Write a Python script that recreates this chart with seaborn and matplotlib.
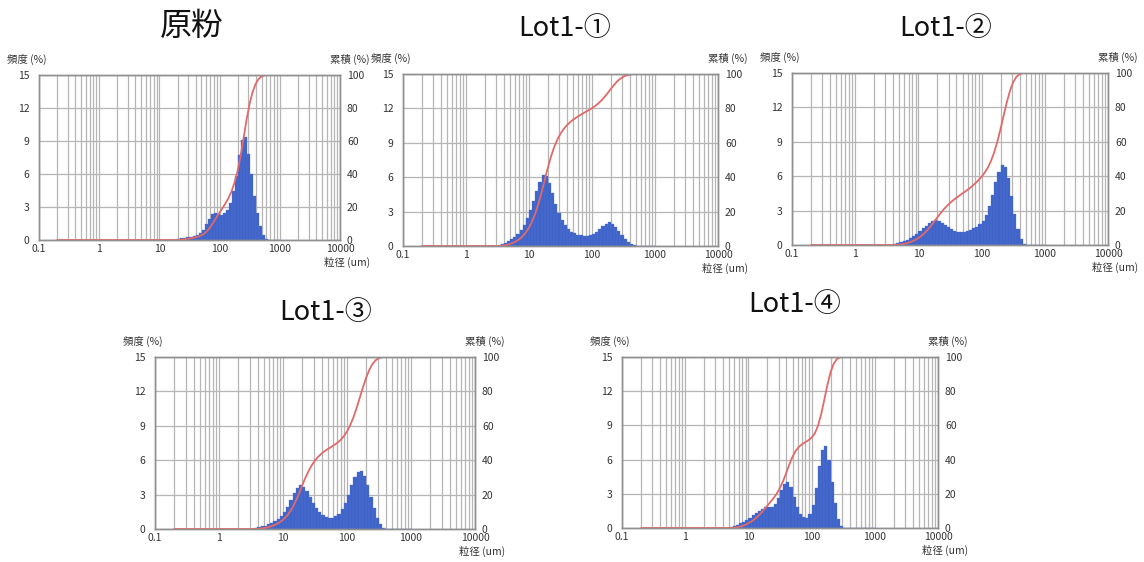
import numpy as np
import pandas as pd
import matplotlib
matplotlib.use("Agg")
import matplotlib.pyplot as plt
import matplotlib.ticker as mticker
import seaborn as sns

sns.set_style("white")
plt.rcParams['font.family'] = ['Noto Sans CJK JP', 'DejaVu Sans']

# ---------------- data ----------------
# instrument size channels (µm): 20 channels per decade from 10^0.5 to 10^3
channel_edges_um = np.logspace(0.5, 3.0, 51)

titles = ["原粉", "Lot1-①", "Lot1-②", "Lot1-③", "Lot1-④"]

x_tick_values = [0.1, 1, 10, 100, 1000, 10000]
x_tick_labels = ["0.1", "1", "10", "100", "1000", "10000"]
freq_ticks = [0, 3, 6, 9, 12, 15]
cum_ticks = [0, 20, 40, 60, 80, 100]

# frequency (%) per channel
freq_genpun = [0] * 16 + [
    0.1, 0.2, 0.22, 0.25, 0.28, 0.32, 0.45, 0.6, 0.9, 1.45,
    1.95, 2.35, 2.45, 2.4, 2.3, 2.45, 2.7, 3.4, 4.5, 5.8,
    7.7, 9.1, 9.4, 7.8, 6.0, 4.0, 2.5, 1.3, 0.5, 0.12] + [0] * 4

freq_lot1_1 = [
    0.05, 0.2, 0.3, 0.45, 0.6, 0.8, 1.05, 1.4, 1.85, 2.4,
    3.1, 3.9, 4.8, 5.6, 6.2, 6.1, 5.5, 4.6, 3.7, 2.9,
    2.3, 1.85, 1.5, 1.25, 1.1, 0.98, 0.92, 0.9, 0.9, 0.95,
    1.05, 1.25, 1.5, 1.75, 1.95, 2.05, 1.95, 1.7, 1.35, 1.0,
    0.65, 0.38, 0.2, 0.08] + [0] * 6

freq_lot1_2 = [
    0, 0, 0.05, 0.15, 0.25, 0.35, 0.45, 0.6, 0.75, 0.95,
    1.2, 1.45, 1.7, 1.95, 2.1, 2.18, 2.1, 1.95, 1.75, 1.55,
    1.38, 1.25, 1.17, 1.15, 1.15, 1.2, 1.3, 1.45, 1.6, 1.8,
    2.1, 2.6, 3.4, 4.4, 5.5, 6.4, 7.0, 6.8, 5.8, 4.3,
    2.7, 1.4, 0.5, 0.1] + [0] * 6

freq_lot1_3 = [
    0, 0.08, 0.15, 0.22, 0.3, 0.4, 0.52, 0.7, 0.9, 1.15,
    1.5, 1.95, 2.5, 3.1, 3.6, 3.85, 3.7, 3.3, 2.8, 2.25,
    1.8, 1.45, 1.2, 1.05, 0.97, 0.97, 1.1, 1.35, 1.75, 2.3,
    3.0, 3.8, 4.5, 5.0, 5.05, 4.6, 3.8, 2.8, 1.8, 1.0,
    0.4, 0.1] + [0] * 8

freq_lot1_4 = [
    0, 0, 0, 0, 0.08, 0.18, 0.28, 0.4, 0.55, 0.72,
    0.9, 1.1, 1.3, 1.5, 1.7, 1.8, 1.8, 1.85, 2.1, 2.6,
    3.3, 3.9, 4.05, 3.6, 2.7, 1.8, 1.25, 0.95, 0.92, 1.2,
    2.0, 3.5, 5.4, 6.8, 7.15, 6.0, 4.0, 2.2, 0.8, 0.15] + [0] * 10

all_freqs = [freq_genpun, freq_lot1_1, freq_lot1_2, freq_lot1_3, freq_lot1_4]

# measurement range of the cumulative curve (µm)
cum_start_um = 0.2
cum_end_um = 1450

# ---------------- layout / style ----------------
W, H = 1144, 562
# axes frames in pixels: (left, top, right, bottom)
frames_px = [
    (39, 75, 340, 240),
    (403, 74, 718, 246),
    (792, 73, 1108, 245),
    (155, 357, 475, 529),
    (622, 357, 938, 528),
]
# titles: (center x px, center y px, fontsize)
title_pos = [
    (192, 26, 23),
    (565, 28, 19.5),
    (946, 28, 19.5),
    (326, 313, 19.5),
    (795, 305, 19.5),
]

bar_color = "#3f63c9"
line_color = "#e2696a"
grid_color = "#b5b5b5"
spine_color = "#8f8f8f"
text_color = "#333333"

fig = plt.figure(figsize=(W / 100, H / 100), dpi=100)
fig.patch.set_facecolor("white")

centers = np.sqrt(channel_edges_um[:-1] * channel_edges_um[1:])
log_bins = [float(v) for v in np.log10(channel_edges_um)]

for k, (freq, title) in enumerate(zip(all_freqs, titles)):
    l, t, r, b = frames_px[k]
    ax = fig.add_axes([l / W, 1 - b / H, (r - l) / W, (b - t) / H])
    df = pd.DataFrame({"size": centers, "freq": freq})
    sns.histplot(data=df, x="size", weights="freq", bins=log_bins,
                 log_scale=True, stat="count", color=bar_color, alpha=1.0,
                 edgecolor="#5577d2", linewidth=0.25, ax=ax, zorder=2)
    ax.set_xlim(0.1, 10000)
    ax.set_ylim(0, 15)
    ax.set_xlabel("")
    ax.set_ylabel("")
    ax.xaxis.set_major_locator(mticker.FixedLocator(x_tick_values))
    ax.xaxis.set_major_formatter(mticker.FixedFormatter(x_tick_labels))
    ax.xaxis.set_minor_locator(mticker.LogLocator(base=10, subs=np.arange(2, 10)))
    ax.xaxis.set_minor_formatter(mticker.NullFormatter())
    ax.set_yticks(freq_ticks)
    ax.set_axisbelow(True)
    ax.grid(which="both", axis="x", color=grid_color, lw=0.9)
    ax.grid(which="major", axis="y", color=grid_color, lw=0.9)
    ax.tick_params(which="both", length=0, labelsize=7.5, colors=text_color)
    ax.tick_params(axis="y", pad=7)
    ax.tick_params(axis="x", pad=3)
    for s in ax.spines.values():
        s.set_color(spine_color)
        s.set_linewidth(1.0)

    # cumulative curve
    cum = np.cumsum(freq) / np.sum(freq) * 100
    line_x = np.concatenate([[cum_start_um], channel_edges_um, [cum_end_um]])
    line_y = np.concatenate([[0, 0], cum, [100]])
    ax2 = ax.twinx()
    sns.lineplot(x=line_x, y=line_y, ax=ax2, color=line_color, lw=1.3,
                 sort=False, estimator=None)
    ax2.set_ylim(0, 100)
    ax2.set_yticks(cum_ticks)
    ax2.set_ylabel("")
    ax2.set_xlim(0.1, 10000)
    ax2.tick_params(length=0, labelsize=7.5, colors=text_color, pad=5)
    for s in ax2.spines.values():
        s.set_color(spine_color)
        s.set_linewidth(1.0)

    # small axis captions
    ax.annotate("頻度 (%)", xy=(0, 1), xycoords="axes fraction", xytext=(-23, 11),
                textcoords="offset points", ha="left", va="center", fontsize=7.5,
                color=text_color)
    ax.annotate("累積 (%)", xy=(1, 1), xycoords="axes fraction", xytext=(21, 11),
                textcoords="offset points", ha="right", va="center", fontsize=7.5,
                color=text_color)
    ax.annotate("粒径 (um)", xy=(1, 0), xycoords="axes fraction", xytext=(22, -16),
                textcoords="offset points", ha="right", va="center", fontsize=7.5,
                color=text_color)

    cx, cy, fs = title_pos[k]
    fig.text(cx / W, 1 - cy / H, title, ha="center", va="center", fontsize=fs,
             color="#111111")

fig.savefig("out.png", dpi=100, facecolor="white")
